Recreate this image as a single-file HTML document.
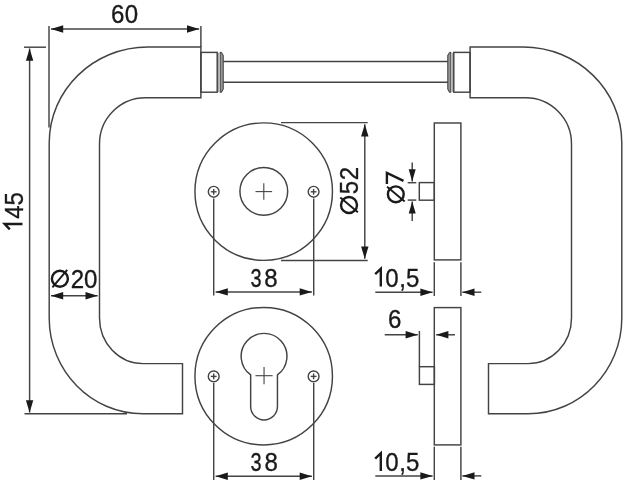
<!DOCTYPE html>
<html><head><meta charset="utf-8"><style>
html,body{margin:0;padding:0;background:#fff;}
body{width:623px;height:480px;overflow:hidden;}
svg{display:block;will-change:transform;font-family:"Liberation Sans",sans-serif;}
</style></head><body>
<svg width="623" height="480" viewBox="0 0 623 480">
<path d="M200.9,47.0 L148.0,47.0 C93.43,47.0 49.2,89.98 49.2,143.0 L49.2,318.0 C49.2,370.91 91.19,413.8 143.0,413.8 L182.5,413.8 L182.5,363.6 L143.0,363.6 C118.97,363.6 99.5,343.18 99.5,318.0 L99.5,144.0 C99.5,118.48 120.09,97.8 145.5,97.8 L200.9,97.8 Z" stroke="#434343" stroke-width="1.45" fill="none"/>
<rect x="200.9" y="52.4" width="16.3" height="39.8" fill="none" stroke="#434343" stroke-width="1.45"/>
<line x1="218.0" y1="52.8" x2="218.0" y2="92.0" stroke="#434343" stroke-width="0.9"/>
<path d="M220.2,52.5 L221.0,52.3 Q221.6,52.4 223.2,55.6 L223.2,88.9 Q221.6,92.2 221.0,92.3 L220.2,92.2 Z" stroke="#434343" stroke-width="1.1" fill="#9a9a9a" stroke-linejoin="round"/>
<path d="M470.1,47.0 L523.0,47.0 C577.57,47.0 621.8,89.98 621.8,143.0 L621.8,318.0 C621.8,370.91 579.81,413.8 528.0,413.8 L488.5,413.8 L488.5,363.6 L528.0,363.6 C552.03,363.6 571.5,343.18 571.5,318.0 L571.5,144.0 C571.5,118.48 550.91,97.8 525.5,97.8 L470.1,97.8 Z" stroke="#434343" stroke-width="1.45" fill="none"/>
<rect x="453.8" y="52.4" width="16.3" height="39.8" fill="none" stroke="#434343" stroke-width="1.45"/>
<line x1="453.0" y1="52.8" x2="453.0" y2="92.0" stroke="#434343" stroke-width="0.9"/>
<path d="M450.8,52.5 L450.0,52.3 Q449.4,52.4 447.8,55.6 L447.8,88.9 Q449.4,92.2 450.0,92.3 L450.8,92.2 Z" stroke="#434343" stroke-width="1.1" fill="#9a9a9a" stroke-linejoin="round"/>
<line x1="223.2" y1="61.5" x2="447.8" y2="61.5" stroke="#434343" stroke-width="1.45"/>
<line x1="223.2" y1="82.2" x2="447.8" y2="82.2" stroke="#434343" stroke-width="1.45"/>
<line x1="49.0" y1="26" x2="49.0" y2="127.5" stroke="#434343" stroke-width="1.45"/>
<line x1="200.9" y1="26" x2="200.9" y2="47" stroke="#434343" stroke-width="1.45"/>
<line x1="51.0" y1="29.0" x2="199.2" y2="29.0" stroke="#434343" stroke-width="1.45"/>
<polygon points="51.0,29.0 63.20,25.30 63.20,32.70" fill="#1a1a1a"/>
<polygon points="199.2,29.0 187.00,32.70 187.00,25.30" fill="#1a1a1a"/>
<line x1="24" y1="47.2" x2="46" y2="47.2" stroke="#434343" stroke-width="1.45"/>
<line x1="24.5" y1="413.8" x2="127" y2="413.8" stroke="#434343" stroke-width="1.45"/>
<line x1="29.6" y1="48.5" x2="29.6" y2="412.5" stroke="#434343" stroke-width="1.45"/>
<polygon points="29.6,48.5 33.30,60.70 25.90,60.70" fill="#1a1a1a"/>
<polygon points="29.6,412.5 25.90,400.30 33.30,400.30" fill="#1a1a1a"/>
<line x1="51.0" y1="295.7" x2="97.7" y2="295.7" stroke="#434343" stroke-width="1.45"/>
<polygon points="51.0,295.7 63.20,292.00 63.20,299.40" fill="#1a1a1a"/>
<polygon points="97.7,295.7 85.50,299.40 85.50,292.00" fill="#1a1a1a"/>
<circle cx="263.7" cy="191.6" r="68.75" fill="none" stroke="#434343" stroke-width="1.45"/>
<circle cx="213.7" cy="191.79999999999998" r="5.4" fill="none" stroke="#434343" stroke-width="1.4"/>
<line x1="210.79999999999998" y1="191.79999999999998" x2="216.6" y2="191.79999999999998" stroke="#434343" stroke-width="1.4"/>
<line x1="213.7" y1="188.89999999999998" x2="213.7" y2="194.7" stroke="#434343" stroke-width="1.4"/>
<circle cx="313.6" cy="191.79999999999998" r="5.4" fill="none" stroke="#434343" stroke-width="1.4"/>
<line x1="310.70000000000005" y1="191.79999999999998" x2="316.5" y2="191.79999999999998" stroke="#434343" stroke-width="1.4"/>
<line x1="313.6" y1="188.89999999999998" x2="313.6" y2="194.7" stroke="#434343" stroke-width="1.4"/>
<circle cx="263.8" cy="191.29999999999998" r="23.9" fill="none" stroke="#434343" stroke-width="1.45"/>
<line x1="255.5" y1="191.6" x2="272.09999999999997" y2="191.6" stroke="#434343" stroke-width="1.1"/>
<line x1="263.8" y1="183.2" x2="263.8" y2="199.79999999999998" stroke="#434343" stroke-width="1.1"/>
<circle cx="263.7" cy="376.2" r="68.75" fill="none" stroke="#434343" stroke-width="1.45"/>
<circle cx="213.7" cy="376.4" r="5.4" fill="none" stroke="#434343" stroke-width="1.4"/>
<line x1="210.79999999999998" y1="376.4" x2="216.6" y2="376.4" stroke="#434343" stroke-width="1.4"/>
<line x1="213.7" y1="373.5" x2="213.7" y2="379.29999999999995" stroke="#434343" stroke-width="1.4"/>
<circle cx="313.6" cy="376.4" r="5.4" fill="none" stroke="#434343" stroke-width="1.4"/>
<line x1="310.70000000000005" y1="376.4" x2="316.5" y2="376.4" stroke="#434343" stroke-width="1.4"/>
<line x1="313.6" y1="373.5" x2="313.6" y2="379.29999999999995" stroke="#434343" stroke-width="1.4"/>
<path d="M250.65,374.87 A22.9,22.9 0 1 1 277.45,374.87 L277.45,406.5 A13.4,13.4 0 0 1 250.65,406.5 Z" stroke="#434343" stroke-width="1.45" fill="none"/>
<line x1="255.45000000000002" y1="375.7" x2="272.65000000000003" y2="375.7" stroke="#434343" stroke-width="1.1"/>
<line x1="264.05" y1="367.0" x2="264.05" y2="384.3" stroke="#434343" stroke-width="1.1"/>
<line x1="213.7" y1="198.5" x2="213.7" y2="295.5" stroke="#434343" stroke-width="1.45"/>
<line x1="313.7" y1="198.5" x2="313.7" y2="295.5" stroke="#434343" stroke-width="1.45"/>
<line x1="215.6" y1="291.9" x2="311.9" y2="291.9" stroke="#434343" stroke-width="1.45"/>
<polygon points="215.6,291.9 227.80,288.20 227.80,295.60" fill="#1a1a1a"/>
<polygon points="311.9,291.9 299.70,295.60 299.70,288.20" fill="#1a1a1a"/>
<line x1="213.7" y1="383" x2="213.7" y2="480" stroke="#434343" stroke-width="1.45"/>
<line x1="313.7" y1="383" x2="313.7" y2="480" stroke="#434343" stroke-width="1.45"/>
<line x1="215.6" y1="476.3" x2="311.9" y2="476.3" stroke="#434343" stroke-width="1.45"/>
<polygon points="215.6,476.3 227.80,472.60 227.80,480.00" fill="#1a1a1a"/>
<polygon points="311.9,476.3 299.70,480.00 299.70,472.60" fill="#1a1a1a"/>
<line x1="281" y1="122.6" x2="367.7" y2="122.6" stroke="#434343" stroke-width="1.45"/>
<line x1="281" y1="260.4" x2="367.7" y2="260.4" stroke="#434343" stroke-width="1.45"/>
<line x1="364.8" y1="124.2" x2="364.8" y2="258.8" stroke="#434343" stroke-width="1.45"/>
<polygon points="364.8,124.2 368.50,136.40 361.10,136.40" fill="#1a1a1a"/>
<polygon points="364.8,258.8 361.10,246.60 368.50,246.60" fill="#1a1a1a"/>
<rect x="434.3" y="123.0" width="26.6" height="136.9" fill="none" stroke="#434343" stroke-width="1.45"/>
<rect x="419.3" y="182.6" width="15" height="17.6" fill="none" stroke="#434343" stroke-width="1.45"/>
<line x1="407.7" y1="182.7" x2="416.3" y2="182.7" stroke="#434343" stroke-width="1.45"/>
<line x1="407.7" y1="200.1" x2="416.3" y2="200.1" stroke="#434343" stroke-width="1.45"/>
<line x1="412.2" y1="162.5" x2="412.2" y2="181.4" stroke="#434343" stroke-width="1.45"/>
<polygon points="412.2,181.4 408.70,169.20 415.70,169.20" fill="#1a1a1a"/>
<line x1="412.2" y1="201.4" x2="412.2" y2="221" stroke="#434343" stroke-width="1.45"/>
<polygon points="412.2,201.4 415.70,213.60 408.70,213.60" fill="#1a1a1a"/>
<line x1="434.3" y1="262.2" x2="434.3" y2="296" stroke="#434343" stroke-width="1.45"/>
<line x1="460.9" y1="262.2" x2="460.9" y2="296" stroke="#434343" stroke-width="1.45"/>
<line x1="375.3" y1="292.2" x2="432.6" y2="292.2" stroke="#434343" stroke-width="1.45"/>
<polygon points="432.6,292.2 420.40,295.90 420.40,288.50" fill="#1a1a1a"/>
<line x1="462.3" y1="292.2" x2="481.3" y2="292.2" stroke="#434343" stroke-width="1.45"/>
<polygon points="462.3,292.2 474.50,288.50 474.50,295.90" fill="#1a1a1a"/>
<line x1="434.3" y1="446.7" x2="434.3" y2="480" stroke="#434343" stroke-width="1.45"/>
<line x1="460.9" y1="446.7" x2="460.9" y2="480" stroke="#434343" stroke-width="1.45"/>
<line x1="375.3" y1="475.9" x2="432.6" y2="475.9" stroke="#434343" stroke-width="1.45"/>
<polygon points="432.6,475.9 420.40,479.60 420.40,472.20" fill="#1a1a1a"/>
<line x1="462.3" y1="475.9" x2="481.3" y2="475.9" stroke="#434343" stroke-width="1.45"/>
<polygon points="462.3,475.9 474.50,472.20 474.50,479.60" fill="#1a1a1a"/>
<rect x="434.3" y="307.6" width="26.6" height="137.3" fill="none" stroke="#434343" stroke-width="1.45"/>
<rect x="419.4" y="366.7" width="15" height="17.7" fill="none" stroke="#434343" stroke-width="1.45"/>
<line x1="419.4" y1="331" x2="419.4" y2="366.7" stroke="#434343" stroke-width="1.45"/>
<line x1="384.7" y1="334.8" x2="417.8" y2="334.8" stroke="#434343" stroke-width="1.45"/>
<polygon points="417.8,334.8 405.60,338.50 405.60,331.10" fill="#1a1a1a"/>
<line x1="436.2" y1="334.8" x2="455" y2="334.8" stroke="#434343" stroke-width="1.45"/>
<polygon points="436.2,334.8 448.40,331.10 448.40,338.50" fill="#1a1a1a"/>
<text transform="translate(112.20,22.8) scale(0.94,1)" x="-1.30" y="0" font-size="25.6" fill="#1a1a1a" stroke="#1a1a1a" stroke-width="0.35">6</text>
<text transform="translate(125.60,22.8) scale(0.94,1)" x="-1.00" y="0" font-size="25.6" fill="#1a1a1a" stroke="#1a1a1a" stroke-width="0.35">0</text>
<path d="M9.8,229.3 L4.7,224 L22.5,224" stroke="#1a1a1a" stroke-width="2.4" fill="none" stroke-linejoin="miter"/>
<text transform="translate(22.5,218.20) rotate(-90) scale(0.94,1)" x="-0.59" y="0" font-size="25.6" fill="#1a1a1a" stroke="#1a1a1a" stroke-width="0.35">4</text>
<text transform="translate(22.5,204.50) rotate(-90) scale(0.94,1)" x="-1.03" y="0" font-size="25.6" fill="#1a1a1a" stroke="#1a1a1a" stroke-width="0.35">5</text>
<circle cx="59.9" cy="278.7" r="8.0" fill="none" stroke="#1a1a1a" stroke-width="2.4"/>
<line x1="52.4" y1="287.4" x2="67.2" y2="269.8" stroke="#1a1a1a" stroke-width="1.9"/>
<text transform="translate(72.00,287.8) scale(0.94,1)" x="-1.29" y="0" font-size="25.6" fill="#1a1a1a" stroke="#1a1a1a" stroke-width="0.35">2</text>
<text transform="translate(85.00,287.8) scale(0.94,1)" x="-1.00" y="0" font-size="25.6" fill="#1a1a1a" stroke="#1a1a1a" stroke-width="0.35">0</text>
<text transform="translate(251.20,286.9) scale(0.78,1)" x="-0.98" y="0" font-size="25.6" fill="#1a1a1a" stroke="#1a1a1a" stroke-width="0.35">3</text>
<text transform="translate(265.40,286.9) scale(0.94,1)" x="-1.11" y="0" font-size="25.6" fill="#1a1a1a" stroke="#1a1a1a" stroke-width="0.35">8</text>
<text transform="translate(251.30,471.4) scale(0.78,1)" x="-0.98" y="0" font-size="25.6" fill="#1a1a1a" stroke="#1a1a1a" stroke-width="0.35">3</text>
<text transform="translate(265.50,471.4) scale(0.94,1)" x="-1.11" y="0" font-size="25.6" fill="#1a1a1a" stroke="#1a1a1a" stroke-width="0.35">8</text>
<path d="M375.20,274.10 L380.8,268.7 L380.8,286.5" stroke="#1a1a1a" stroke-width="2.4" fill="none" stroke-linejoin="miter"/>
<text transform="translate(386.30,286.5) scale(0.94,1)" x="-1.00" y="0" font-size="25.6" fill="#1a1a1a" stroke="#1a1a1a" stroke-width="0.35">0</text>
<text transform="translate(401.30,286.5) scale(0.94,1)" x="-2.30" y="0" font-size="25.6" fill="#1a1a1a" stroke="#1a1a1a" stroke-width="0.35">,</text>
<text transform="translate(407.00,286.5) scale(0.94,1)" x="-1.03" y="0" font-size="25.6" fill="#1a1a1a" stroke="#1a1a1a" stroke-width="0.35">5</text>
<path d="M375.20,458.60 L380.8,453.2 L380.8,471.0" stroke="#1a1a1a" stroke-width="2.4" fill="none" stroke-linejoin="miter"/>
<text transform="translate(386.30,471.0) scale(0.94,1)" x="-1.00" y="0" font-size="25.6" fill="#1a1a1a" stroke="#1a1a1a" stroke-width="0.35">0</text>
<text transform="translate(401.30,471.0) scale(0.94,1)" x="-2.30" y="0" font-size="25.6" fill="#1a1a1a" stroke="#1a1a1a" stroke-width="0.35">,</text>
<text transform="translate(407.00,471.0) scale(0.94,1)" x="-1.03" y="0" font-size="25.6" fill="#1a1a1a" stroke="#1a1a1a" stroke-width="0.35">5</text>
<text transform="translate(389.30,328.1) scale(0.94,1)" x="-1.30" y="0" font-size="25.6" fill="#1a1a1a" stroke="#1a1a1a" stroke-width="0.35">6</text>
<circle cx="349.0" cy="205.0" r="8.0" fill="none" stroke="#1a1a1a" stroke-width="2.4"/>
<line x1="340.3" y1="197.5" x2="357.9" y2="212.3" stroke="#1a1a1a" stroke-width="1.9"/>
<text transform="translate(358.0,193.30) rotate(-90) scale(0.94,1)" x="-1.03" y="0" font-size="25.6" fill="#1a1a1a" stroke="#1a1a1a" stroke-width="0.35">5</text>
<text transform="translate(358.0,179.10) rotate(-90) scale(0.94,1)" x="-1.29" y="0" font-size="25.6" fill="#1a1a1a" stroke="#1a1a1a" stroke-width="0.35">2</text>
<circle cx="395.8" cy="194.3" r="7.9" fill="none" stroke="#1a1a1a" stroke-width="2.4"/>
<line x1="387.1" y1="186.8" x2="404.7" y2="201.60000000000002" stroke="#1a1a1a" stroke-width="1.9"/>
<path d="M386.9,184 L386.9,172.9 L403.5,180.8" stroke="#1a1a1a" stroke-width="2.4" fill="none" stroke-linejoin="miter"/>
</svg>
</body></html>
